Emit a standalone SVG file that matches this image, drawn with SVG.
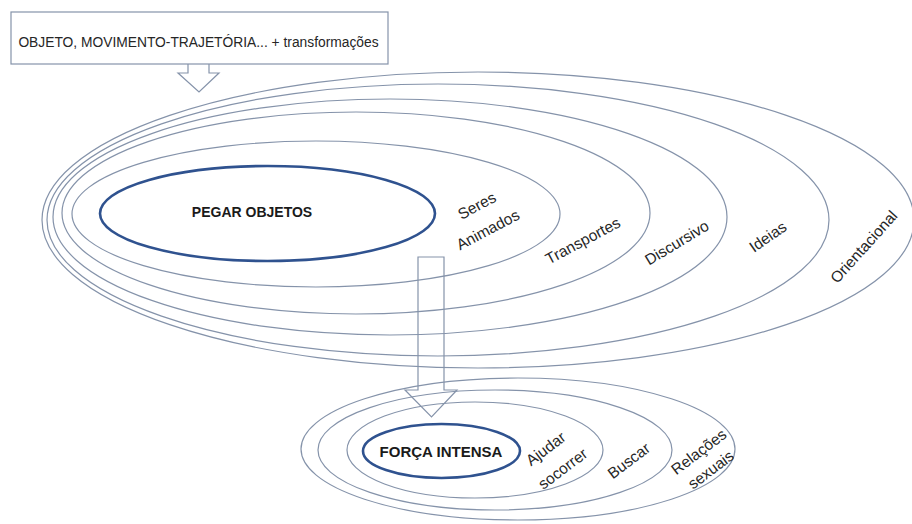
<svg xmlns="http://www.w3.org/2000/svg" width="912" height="524" viewBox="0 0 912 524">
<style>
.ring{fill:none;stroke:#8593AA;stroke-width:1.2}
.core{fill:none;stroke:#2F528F;stroke-width:2.6}
.lbl{font-family:"Liberation Sans",Arial,sans-serif;font-size:15.5px;fill:#262626}
.bold{font-family:"Liberation Sans",Arial,sans-serif;font-weight:bold;fill:#1a1a1a}
.arrow{fill:none;stroke:#8593AA;stroke-width:1.2;stroke-linejoin:miter}
</style>
<rect width="912" height="524" fill="#ffffff"/>
<g id="box-objeto">
<rect x="11" y="12" width="377" height="52" fill="#ffffff" stroke="#8593AA" stroke-width="1.2"/>
<text x="198.5" y="47" text-anchor="middle" style="font-family:'Liberation Sans',Arial,sans-serif;font-size:13.8px;fill:#262626">OBJETO, MOVIMENTO-TRAJETÓRIA... + transformações</text>
</g>
<g id="orientacional">
<ellipse class="ring" cx="478" cy="220" rx="436" ry="148"/>
<text class="lbl" transform="translate(864,247) rotate(-48)" text-anchor="middle" dy="5">Orientacional</text>
</g>
<g id="ideias">
<ellipse class="ring" cx="438" cy="220" rx="391" ry="136"/>
<text class="lbl" transform="translate(768,237) rotate(-35)" text-anchor="middle" dy="5">Ideias</text>
</g>
<g id="discursivo">
<ellipse class="ring" cx="390" cy="217" rx="337" ry="118"/>
<text class="lbl" transform="translate(677,243) rotate(-31)" text-anchor="middle" dy="5">Discursivo</text>
</g>
<g id="transportes">
<ellipse class="ring" cx="356" cy="213" rx="294" ry="101"/>
<text class="lbl" transform="translate(583,241) rotate(-28)" text-anchor="middle" dy="5">Transportes</text>
</g>
<g id="seres-animados">
<ellipse class="ring" cx="316" cy="214" rx="244" ry="73"/>
<text class="lbl" transform="translate(477,206) rotate(-28)" text-anchor="middle" dy="5">Seres</text>
<text class="lbl" transform="translate(488,230) rotate(-28)" text-anchor="middle" dy="5">Animados</text>
</g>
<g id="pegar-objetos">
<ellipse class="core" cx="267.5" cy="213.5" rx="167.5" ry="47.5"/>
<text class="bold" x="252" y="217" text-anchor="middle" font-size="14">PEGAR OBJETOS</text>
</g>
<g id="relacoes-sexuais">
<ellipse class="ring" cx="518" cy="449" rx="217" ry="71"/>
<text class="lbl" transform="translate(699,452) rotate(-37)" text-anchor="middle" dy="5">Relações</text>
<text class="lbl" transform="translate(711,470) rotate(-37)" text-anchor="middle" dy="5">sexuais</text>
</g>
<g id="buscar">
<ellipse class="ring" cx="495" cy="450" rx="177" ry="60"/>
<text class="lbl" transform="translate(629,461) rotate(-37)" text-anchor="middle" dy="5">Buscar</text>
</g>
<g id="ajudar-socorrer">
<ellipse class="ring" cx="475" cy="450" rx="128" ry="48"/>
<text class="lbl" transform="translate(546,449) rotate(-37)" text-anchor="middle" dy="5">Ajudar</text>
<text class="lbl" transform="translate(563,469) rotate(-37)" text-anchor="middle" dy="5">socorrer</text>
</g>
<g id="forca-intensa">
<ellipse class="core" cx="441.5" cy="451" rx="78.5" ry="27"/>
<text class="bold" x="441" y="457" text-anchor="middle" font-size="15">FORÇA INTENSA</text>
</g>
<g id="connectors">
<path class="arrow" d="M188,64 V73 H178 L199,92 L219,73 H209 V64"/>
<path class="arrow" d="M418,257 H444 V390 H457 L431.5,417 L405,390 H418 Z"/>
</g>
</svg>
